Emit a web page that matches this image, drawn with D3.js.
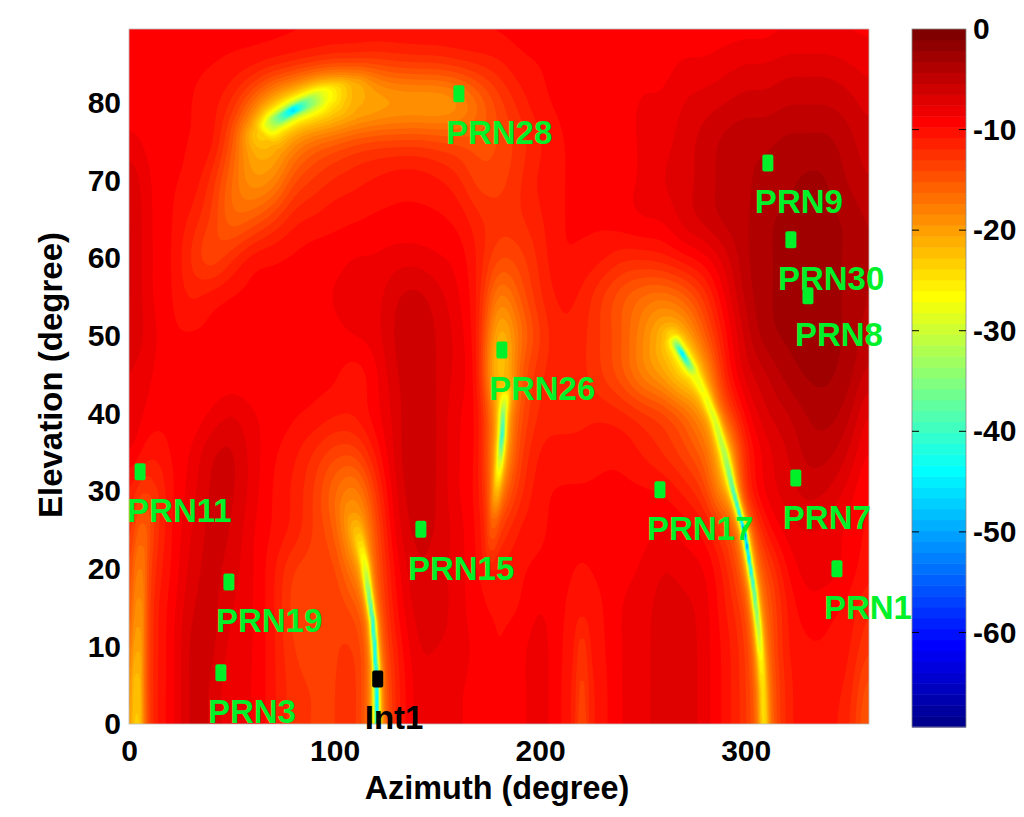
<!DOCTYPE html>
<html>
<head>
<meta charset="utf-8">
<script src="https://cdn.jsdelivr.net/npm/d3@7"></script>
<style>
    html, body { margin: 0; padding: 0; background: #fff; }
    svg { display: block; }
    text { font-family: "Liberation Sans", Arial, sans-serif; font-weight: bold; }
</style>
</head>
<body>
<div id="chart"></div>
<script>
// tick labels
var azimuthTicks = [0, 100, 200, 300];
var elevationTicks = [0, 10, 20, 30, 40, 50, 60, 70, 80];
var gainTicks = [0, -10, -20, -30, -40, -50, -60];

// satellites
var satNames = ["PRN28", "PRN9", "PRN30", "PRN8", "PRN26", "PRN11", "PRN7", "PRN17", "PRN15", "PRN1", "PRN19", "PRN3", "Int1"];
var satAzimuth = [160.5, 310.8, 322, 330.3, 181.4, 5.4, 324.4, 258.3, 142, 344.4, 48.6, 44.7, 121];
var satElevation = [81.2, 72.3, 62.4, 55.2, 48.2, 32.5, 31.7, 30.2, 25.1, 20, 18.3, 6.6, 5.8];

// gain in dB, estimated from the colours. Columns every 10 deg azimuth (0..360), rows every 5 deg from 90 down to 0
var gainRows = [
    [-9.3,-9.3,-9.3,-9.3,-9.3,-9.3,-9.3,-9.3,-9.3,-9.3,-9.3,-9.3,-9.3,-9.3,-9.3,-9.3,-9.3,-9.3,-9.3,-9.3,-9.3,-9.3,-9.3,-9.3,-9.3,-9.3,-9.3,-9.3,-9.3,-9.3,-9.3,-9.3,-9,-9,-9,-9,-9],
    [-9.5,-9.5,-9.5,-9.5,-9.5,-9.7,-10,-10.5,-11,-11.5,-12,-12,-12.5,-12.5,-12.5,-12.5,-12,-11.5,-11,-10,-9.7,-9.5,-9.5,-9.5,-9.5,-9,-9,-8.5,-8.5,-8,-7.5,-7.5,-7,-7,-7,-7.5,-8],
    [-9.5,-9.5,-9.5,-9.5,-10,-11.5,-15,-19,-21,-23,-23,-22,-21,-20.5,-20.5,-20.5,-19.5,-16.5,-13.5,-11.5,-10,-9.5,-9.5,-9.5,-9,-8.5,-8.5,-7.5,-7,-6.5,-6,-6,-5.5,-5.5,-5.5,-6,-7],
    [-8,-9,-9.5,-9.5,-9.8,-13.5,-19,-20,-17.5,-15.5,-14.5,-13.5,-13,-13,-13,-13.5,-14,-14.5,-14,-12.5,-11,-9.8,-9.5,-9.5,-9,-8.5,-8,-7,-6,-5,-4.5,-4.5,-4,-4,-4,-5,-6],
    [-6.5,-8.5,-9.5,-9.8,-12,-16,-19,-18,-14,-12.5,-11.5,-11,-10.5,-10,-10,-10.5,-11.5,-13.5,-13.5,-12,-10.5,-9.8,-9.5,-9.5,-9,-8.5,-7.5,-7,-6,-5,-4.5,-4,-3.5,-3,-3.2,-4.5,-5.5],
    [-6,-8.5,-9.5,-11,-13,-16,-15,-13,-11,-10.5,-10,-9.8,-9.5,-9.5,-9.5,-9.5,-10,-11.5,-12.5,-12,-11,-9.8,-9.5,-9.5,-9,-8.5,-8.5,-7,-6,-5,-4.5,-3.4,-3,-3,-3,-3.4,-4.5],
    [-6,-8.5,-9.5,-12,-14,-12,-10,-9.7,-9.5,-9,-9,-8.5,-8.5,-8,-8,-8.5,-9,-11,-14,-13.5,-11.5,-9.8,-10,-10.5,-11.5,-11.5,-11,-10,-9,-7,-4.5,-3.4,-3,-3,-3,-3.4,-4.5],
    [-6,-8.5,-9.5,-11,-10,-9.5,-9.5,-9.5,-9,-9,-8.5,-8,-8,-6.5,-6,-7,-8.5,-11,-18,-15,-12,-10.5,-11,-13,-15,-16.5,-17,-15.5,-12.5,-8.5,-5,-3.4,-3,-3,-3,-3.4,-4.5],
    [-6.5,-8,-9.5,-9.5,-9.5,-9.5,-9.5,-9.5,-9.5,-9,-9,-8.5,-8,-6.2,-5.8,-6.5,-8,-11,-22,-17,-13,-11,-11.5,-13,-15,-18,-21,-20,-15,-10,-6,-3.6,-3,-3,-3,-3.4,-5],
    [-7.5,-8.5,-9.5,-9.5,-9.5,-9.5,-9.5,-9.5,-9.5,-9.5,-9.5,-10.5,-9,-6.5,-5.8,-6.5,-8,-10.5,-24,-15,-12,-11,-11.5,-13,-15,-18,-20,-23,-19,-11,-7,-5.5,-3.8,-3,-3,-3.8,-6],
    [-7.5,-9,-9.5,-9.5,-8.5,-7.5,-8.5,-9,-9.5,-9.8,-10.5,-10.5,-9,-7,-5.2,-6.5,-8.5,-9.8,-18,-14,-11.5,-11,-11,-11,-11.5,-12.5,-13.5,-15.5,-18,-14,-9,-6.5,-5.5,-4.2,-3.8,-5,-8],
    [-8,-10.5,-9.5,-8.5,-6.5,-6.2,-8,-9.5,-10.5,-12,-13.5,-13.5,-10.5,-7,-5.2,-6.5,-8.5,-9.8,-18,-13,-10.5,-10.5,-10.5,-10,-10,-11,-12,-13.5,-15.5,-19,-11,-8,-6.5,-5,-5,-6.5,-9],
    [-10,-12,-9.8,-8,-6.2,-6.2,-8,-9.8,-11,-13,-16,-18,-12.5,-7.5,-5.5,-6.5,-8.5,-9.8,-15,-12,-10,-9.5,-9.5,-9.5,-9.5,-9.5,-9.8,-11,-13,-18,-11,-8,-7,-6,-6.5,-8,-10],
    [-11,-12,-9.5,-7.5,-6,-6.5,-8.5,-9.8,-11,-13,-15,-20,-14,-8,-6,-6.5,-8,-9.5,-12,-10.5,-9.8,-9.5,-9.5,-9.5,-9,-9,-8.5,-9,-10,-13,-14,-10,-8,-7.5,-8,-9,-10],
    [-12,-11,-9.5,-7,-6,-7,-8.5,-10.5,-13,-13.5,-13.5,-17,-14,-9,-6.5,-7,-8,-9.5,-10.5,-9.8,-9.5,-9.5,-9.8,-9.5,-9,-8.5,-7.5,-8,-8.5,-11,-14,-13,-9.5,-8,-8,-9,-10.5],
    [-13,-10.5,-9,-6.5,-6,-7.5,-8.5,-10.5,-13.5,-13.5,-13,-14,-14,-9.5,-7,-7,-8,-9.5,-9.8,-9.8,-8.5,-9.5,-10,-9.8,-8.5,-8,-7,-7.2,-8,-10.5,-12.5,-14,-10.5,-9,-9.5,-10,-12],
    [-14,-10.5,-9,-6,-6,-8,-8.5,-10.5,-13,-13.5,-13,-12.5,-14,-10.5,-7.5,-7.5,-8,-9,-9.8,-9,-8,-9.5,-10,-9.8,-8.5,-8,-6.8,-6.8,-8,-10,-12,-14,-10.5,-9.8,-9.8,-10.5,-13],
    [-15,-10.5,-9,-6,-6.5,-8.5,-8.5,-10.5,-12.5,-13,-13,-12,-15,-11,-8,-8,-8.5,-9,-9.8,-9,-8,-9.5,-10.5,-10,-8.5,-8,-6.8,-6.8,-8,-10,-12,-14,-11,-9.8,-10.5,-11,-15],
    [-16,-10.5,-9,-6,-6.5,-8.5,-8.5,-10.5,-12.5,-13,-13,-12,-15.5,-11,-8,-8,-8.5,-9,-9.8,-9,-8,-9.5,-10.5,-10,-8.5,-8,-6.8,-6.8,-8,-10,-12,-14,-11,-9.8,-10.5,-11.5,-16]
];

// the pattern nulls are too thin for that grid: [azimuth, elevation, dB] along each one
var nullTop = [[64.7,75.9,-23],[71,77.7,-34],[79.8,79.1,-46],[87,80,-36],[95,81,-28],[103,81.5,-24],[110,81.7,-21]];
var nullMiddle = [[183.4,43.7,-22],[181.9,39.8,-35],[181.5,37.2,-42],[180.5,34,-30],[179,30.2,-22],[177.6,26.3,-16],[176,21.1,-12]];
var nullInt = [[108.5,27.6,-19],[112.4,23.5,-24],[114.8,20.5,-28],[116.3,17.5,-34],[118.7,13.1,-40],[120.2,7.2,-43],[120.6,0,-44]];
var nullRight = [[264.2,50.1,-24],[266.6,48.8,-36],[269,47.8,-46],[271.9,46.5,-38],[275.3,45,-28],[280.2,42.4,-27],[285,39.2,-29],[289.9,34.7,-32],[293.8,30.2,-38],[297.2,26.9,-42],[299.7,24.4,-52],[302.1,20.5,-43],[304,17.3,-38],[306,12.8,-32],[307.5,8.2,-26],[308.4,4.4,-24],[308.9,0,-24]];
var nullEdge = [[3.9,0,-23],[3.9,5.7,-22],[4.4,10.8,-20],[4.9,16,-18.5],[5.4,21.1,-17],[6.8,26.3,-15],[8.8,31.4,-12]];
var nullStrip = [[220.4,0,-13.5],[220.4,5.7,-13],[220.4,10.8,-12],[220.4,14.7,-10.5]];

var nullTracks = [nullTop, nullMiddle, nullInt, nullRight, nullEdge, nullStrip];
var nullWidths = [18, 7, 7, 8, 10, 6];
var nullCores = [2, 1.2, 1.5, 1.2, 2, 2];

var plot = { left: 129, right: 869, top: 29, bottom: 724 };
var bar = { left: 912, right: 966, top: 29, bottom: 727 };
var gainMin = -69.4, levels = 64;

var x = d3.scaleLinear().domain([0, 360]).range([plot.left, plot.right]);
var y = d3.scaleLinear().domain([0, 89.56]).range([plot.bottom, plot.top]);
var barY = d3.scaleLinear().domain([0, gainMin]).range([bar.top, bar.bottom]);

// matlab jet, 64 steps
var jet = d3.scaleLinear()
    .domain([0, 7, 23, 39, 55, 63])
    .range(["#00008f", "#0000ff", "#00ffff", "#ffff00", "#ff0000", "#800000"])
    .interpolate(d3.interpolateRgb);

var svg = d3.select("#chart").append("svg")
    .attr("width", 1024)
    .attr("height", 817);

// catmull-rom so the coarse grid doesn't show its kinks
function cubic(a, b, c, d, t) {
    return b + 0.5 * t * (c - a + t * (2 * a - 5 * b + 4 * c - d + t * (3 * (b - c) + d - a)));
}

function gridGain(az, el) {
    var cols = gainRows[0].length, rows = gainRows.length;
    var u = az / 10, v = (90 - el) / 5;
    var iu = Math.min(Math.floor(u), cols - 2), iv = Math.min(Math.floor(v), rows - 2);
    var pick = function(r, c) {
        return gainRows[Math.max(0, Math.min(rows - 1, r))][Math.max(0, Math.min(cols - 1, c))];
    };
    var line = [];
    for (var r = -1; r <= 2; r++) {
        line.push(cubic(pick(iv + r, iu - 1), pick(iv + r, iu), pick(iv + r, iu + 1), pick(iv + r, iu + 2), u - iu));
    }
    return cubic(line[0], line[1], line[2], line[3], v - iv);
}

// dig each null into the background gain
function applyNulls(gain, px, py) {
    nullTracks.forEach(function(track, n) {
        var best = Infinity, depth = 0;
        for (var i = 0; i < track.length - 1; i++) {
            var ax = x(track[i][0]), ay = y(track[i][1]);
            var bx = x(track[i + 1][0]), by = y(track[i + 1][1]);
            var dx = bx - ax, dy = by - ay;
            var t = Math.max(0, Math.min(1, ((px - ax) * dx + (py - ay) * dy) / (dx * dx + dy * dy)));
            var ex = ax + t * dx - px, ey = ay + t * dy - py;
            var dist = ex * ex + ey * ey;
            if (dist < best) {
                best = dist;
                depth = track[i][2] + t * (track[i + 1][2] - track[i][2]);
            }
        }
        var r = Math.max(0, Math.sqrt(best) - nullCores[n]) / nullWidths[n];
        var eps2 = Math.min(1, Math.pow(10, (depth - gain) / 10));
        gain += 10 * Math.log10((eps2 + r * r) / (1 + r * r));
    });
    return gain;
}

var nx = 370, ny = 348;
var values = new Float64Array(nx * ny);
var cellX = d3.scaleLinear().domain([0, nx]).range([plot.left, plot.right]);
var cellY = d3.scaleLinear().domain([0, ny]).range([plot.top, plot.bottom]);
var i, j;
for (j = 0; j < ny; j++) {
    for (i = 0; i < nx; i++) {
        values[j * nx + i] = gridGain(x.invert(cellX(i + 0.5)), y.invert(cellY(j + 0.5)));
    }
}
// hand-read values are noisy, smooth them before the nulls go in
d3.blur2({ data: values, width: nx, height: ny }, 2.5, 6);
for (j = 0; j < ny; j++) {
    for (i = 0; i < nx; i++) {
        values[j * nx + i] = applyNulls(values[j * nx + i], cellX(i + 0.5), cellY(j + 0.5));
    }
}

/* filled map */
svg.append("rect")
    .attr("x", plot.left)
    .attr("y", plot.top)
    .attr("width", plot.right - plot.left)
    .attr("height", plot.bottom - plot.top)
    .attr("fill", jet(0));

var levelStep = -gainMin / levels;
var thresholds = d3.range(1, levels).map(function(k) { return gainMin + k * levelStep; });
var contours = d3.contours().size([nx, ny]).thresholds(thresholds)(values);
var path = d3.geoPath(d3.geoTransform({
    point: function(a, b) { this.stream.point(cellX(a), cellY(b)); }
}));

svg.append("g")
    .selectAll("path")
    .data(contours)
    .join("path")
    .attr("d", path)
    .attr("fill", function(d, k) { return jet(k + 1); });

/* frame */
svg.append("rect")
    .attr("x", plot.left)
    .attr("y", plot.top)
    .attr("width", plot.right - plot.left)
    .attr("height", plot.bottom - plot.top)
    .attr("fill", "none")
    .attr("stroke", "#bbb")
    .attr("stroke-width", 0.8);

/* axes */
var xAxis = svg.append("g")
    .attr("transform", "translate(0," + plot.bottom + ")")
    .call(d3.axisBottom(x).tickValues(azimuthTicks).tickSize(0).tickPadding(16));
var yAxis = svg.append("g")
    .attr("transform", "translate(" + plot.left + ",0)")
    .call(d3.axisLeft(y).tickValues(elevationTicks).tickSize(0).tickPadding(8));
[xAxis, yAxis].forEach(function(axis) {
    axis.select(".domain").remove();
    axis.selectAll("text").attr("font-size", 30).attr("fill", "#000");
    axis.attr("font-family", null).attr("font-size", null);
});

svg.append("text")
    .text("Azimuth (degree)")
    .attr("x", 497)
    .attr("y", 799)
    .attr("text-anchor", "middle")
    .attr("font-size", 32.4);
svg.append("text")
    .text("Elevation (degree)")
    .attr("transform", "translate(62,375) rotate(-90)")
    .attr("text-anchor", "middle")
    .attr("font-size", 33);

/* satellites */
var sats = svg.append("g")
    .selectAll("g")
    .data(satNames)
    .join("g")
    .attr("transform", function(d, i) {
        return "translate(" + x(satAzimuth[i]) + "," + y(satElevation[i]) + ")";
    });
sats.append("rect")
    .attr("x", -5.5)
    .attr("y", -8.5)
    .attr("width", 11)
    .attr("height", 17)
    .attr("rx", 2)
    .attr("fill", function(d) { return d === "Int1" ? "#000" : "#00f02a"; });
sats.append("text")
    .text(function(d) { return d; })
    .attr("x", -13)
    .attr("y", 50.5)
    .attr("font-size", 33)
    .attr("fill", function(d) { return d === "Int1" ? "#000" : "#00f02a"; });

/* colorbar */
svg.append("g")
    .selectAll("rect")
    .data(d3.range(levels))
    .join("rect")
    .attr("x", bar.left)
    .attr("width", bar.right - bar.left)
    .attr("y", function(k) { return barY(gainMin + (k + 1) * levelStep); })
    .attr("height", barY(gainMin) - barY(gainMin + levelStep) + 0.5)
    .attr("fill", function(k) { return jet(k); });
svg.append("rect")
    .attr("x", bar.left)
    .attr("y", bar.top)
    .attr("width", bar.right - bar.left)
    .attr("height", bar.bottom - bar.top)
    .attr("fill", "none")
    .attr("stroke", "#888")
    .attr("stroke-width", 0.8);

var barAxis = svg.append("g")
    .attr("transform", "translate(" + bar.right + ",0)")
    .call(d3.axisRight(barY).tickValues(gainTicks).tickSize(0).tickPadding(7)
        .tickFormat(function(d) { return String(d); }));
barAxis.select(".domain").remove();
barAxis.selectAll("text").attr("font-size", 30).attr("fill", "#000");
barAxis.attr("font-family", null).attr("font-size", null);

// short inward ticks on both sides of the bar
svg.append("g")
    .selectAll("path")
    .data(gainTicks.slice(1))
    .join("path")
    .attr("d", function(d) {
        var t = barY(d);
        return "M" + bar.left + "," + t + "h7M" + bar.right + "," + t + "h-7";
    })
    .attr("stroke", "#000")
    .attr("stroke-width", 1);
</script>
</body>
</html>
